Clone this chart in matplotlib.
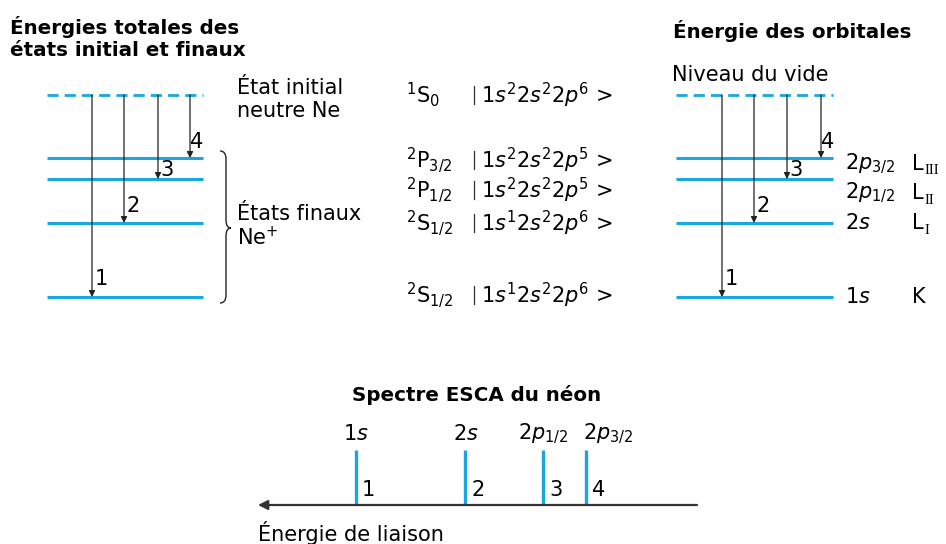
import matplotlib
matplotlib.use("Agg")
import matplotlib.pyplot as plt
from matplotlib.path import Path
from matplotlib.patches import PathPatch

plt.rcParams["font.family"] = ["DejaVu Sans"]
plt.rcParams["mathtext.fontset"] = "custom"
plt.rcParams["mathtext.rm"] = "DejaVu Sans"
plt.rcParams["mathtext.it"] = "DejaVu Sans:italic"
plt.rcParams["mathtext.bf"] = "DejaVu Sans:bold"

BLUE = "#1aa7e0"

# niveaux (ordonnées en px de la figure), rangés par transition 1..4
vacuum_y = 95
level_y = [297, 223, 179, 158]
trans = ["1", "2", "3", "4"]
left_arrow_x = [92, 124, 158, 190]
right_arrow_x = [722, 754, 787, 821]
num_off = [(9, -18), (9, -17), (9, -9), (7, -16)]

# états (milieu)
terms = [r"$^{1}\mathrm{S}_{0}$", r"$^{2}\mathrm{P}_{3/2}$", r"$^{2}\mathrm{P}_{1/2}$",
         r"$^{2}\mathrm{S}_{1/2}$", r"$^{2}\mathrm{S}_{1/2}$"]
configs = [r"1$s^2$2$s^2$2$p^6$ >", r"1$s^2$2$s^2$2$p^5$ >", r"1$s^2$2$s^2$2$p^5$ >",
           r"1$s^1$2$s^2$2$p^6$ >", r"1$s^1$2$s^2$2$p^6$ >"]
state_y = [95, 160, 190, 223, 295]

# orbitales (droite)
orb_labels = [r"1$s$", r"2$s$", r"2$p_{1/2}$", r"2$p_{3/2}$"]
orb_y = [297, 223, 193, 164]
shell = ["K", "L", "L", "L"]
shell_sub = ["", "I", "II", "III"]

# spectre ESCA
peak_x = [356, 465, 543, 586]
peak_lbl = [r"1$s$", r"2$s$", r"2$p_{1/2}$", r"2$p_{3/2}$"]
lbl_dx = [-13, -12, -25, -3]

fig = plt.figure(figsize=(9.46, 5.44), dpi=100)
ax = fig.add_axes([0, 0, 1, 1])
ax.set_xlim(0, 946)
ax.set_ylim(544, 0)
ax.axis("off")

FS = 15
TFS = 14.3


def arrow(x, y0, y1):
    ax.annotate("", xy=(x, y1), xytext=(x, y0),
                arrowprops=dict(arrowstyle="-|>", color="#222222", lw=0.9,
                                mutation_scale=9, shrinkA=0, shrinkB=0))


def panel(x0, x1, xs):
    ax.plot([x0, x1], [vacuum_y, vacuum_y], color=BLUE, lw=2, ls=(0, (4, 2.2)))
    for y in level_y:
        ax.plot([x0, x1], [y, y], color=BLUE, lw=2.2, solid_capstyle="butt")
    for x, y, t, (dx, dy) in zip(xs, level_y, trans, num_off):
        arrow(x, vacuum_y, y)
        ax.text(x + dx, y + dy, t, fontsize=FS, va="center", ha="center")


# --- gauche
ax.text(10, 27, "Énergies totales des", fontsize=TFS, fontweight="bold",
        va="center", ha="left")
ax.text(10, 50, "états initial et finaux", fontsize=TFS, fontweight="bold",
        va="center", ha="left")
panel(47, 203, left_arrow_x)
ax.text(237, 88, "État initial", fontsize=FS, va="center")
ax.text(237, 111, "neutre Ne", fontsize=FS, va="center")
ax.text(237, 214, "États finaux", fontsize=FS, va="center")
ax.text(237, 237, "Ne$^{+}$", fontsize=FS, va="center")

# accolade
bx, top, bot, mid = 220, 151, 303, 228
verts = [(bx, top), (bx + 6, top), (bx + 6, top + 8),
         (bx + 6, mid - 8), (bx + 6, mid), (bx + 11, mid),
         (bx + 6, mid), (bx + 6, mid + 8),
         (bx + 6, bot - 8), (bx + 6, bot), (bx, bot)]
codes = [Path.MOVETO, Path.CURVE3, Path.CURVE3, Path.LINETO, Path.CURVE3, Path.CURVE3,
         Path.CURVE3, Path.CURVE3, Path.LINETO, Path.CURVE3, Path.CURVE3]
ax.add_patch(PathPatch(Path(verts, codes), fill=False, lw=1.0, color="#222222"))

# --- milieu
for term, cfg, y in zip(terms, configs, state_y):
    ax.text(406, y, term, fontsize=FS, va="center", ha="left")
    ax.plot([474, 474], [y - 9, y + 9], color="#333333", lw=0.9)
    ax.text(481, y, cfg, fontsize=FS, va="center", ha="left")

# --- droite
ax.text(673, 31, "Énergie des orbitales", fontsize=TFS, fontweight="bold",
        va="center", ha="left")
ax.text(672, 75, "Niveau du vide", fontsize=FS, va="center", ha="left")
panel(676, 833, right_arrow_x)
for lbl, y, s, sub in zip(orb_labels, orb_y, shell, shell_sub):
    ax.text(845, y, lbl, fontsize=FS, va="center", ha="left")
    ax.text(912, y, s, fontsize=FS, va="center", ha="left")
    if sub:
        ax.text(924, y + 7, sub, fontsize=10.5, va="center", ha="left",
                family="Liberation Serif")

# --- spectre
ax.text(477, 395, "Spectre ESCA du néon", fontsize=TFS, fontweight="bold",
        va="center", ha="center")
ax.annotate("", xy=(258, 505), xytext=(697, 505),
            arrowprops=dict(arrowstyle="-|>", color="#333333", lw=1.6,
                            mutation_scale=14, shrinkA=0, shrinkB=0))
for x, lbl, t, dx in zip(peak_x, peak_lbl, trans, lbl_dx):
    ax.plot([x, x], [450, 504], color=BLUE, lw=2.4, solid_capstyle="butt")
    ax.text(x + 6, 490, t, fontsize=FS, va="center", ha="left")
    ax.text(x + dx, 434, lbl, fontsize=FS, va="center", ha="left")
ax.text(258, 533, "Énergie de liaison", fontsize=FS, va="center", ha="left")

fig.savefig("out.png", dpi=100)
